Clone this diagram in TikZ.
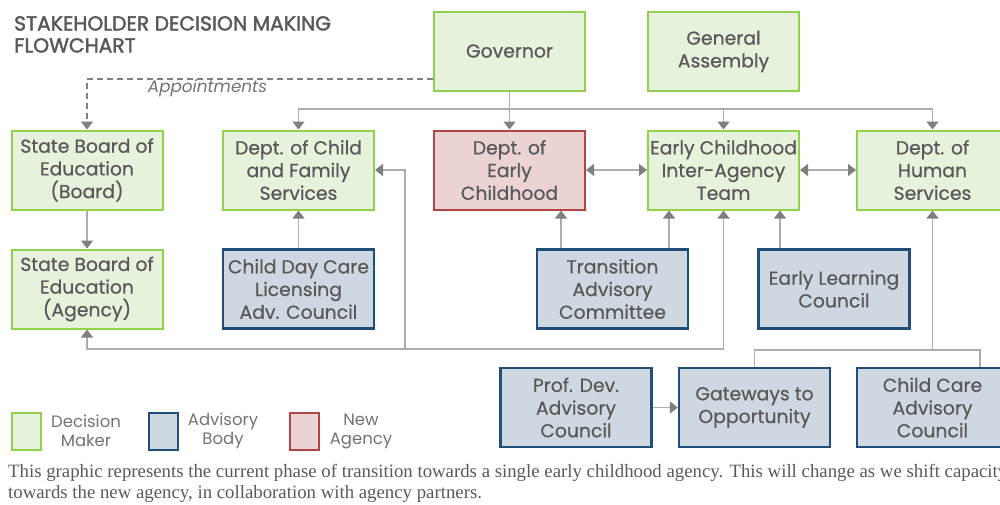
\documentclass[tikz,border=0pt]{standalone}
\usepackage{fontspec}
\usetikzlibrary{arrows.meta,calc}
\setmainfont{Poppins}[FakeBold=0]
\newfontfamily\boxfont[FakeBold=0.6]{Poppins}
\newfontfamily\titlefont[FakeBold=2]{Poppins}
\newfontfamily\captionfont{Liberation Serif}

\definecolor{txtgray}{HTML}{595959}
\definecolor{linegray}{HTML}{ADADAD}
\definecolor{tipgray}{HTML}{7F7F7F}
\definecolor{dmborder}{HTML}{92D050}
\definecolor{dmfill}{HTML}{E6F2DC}
\definecolor{adborder}{HTML}{1F4E79}
\definecolor{adfill}{HTML}{CFD8E0}
\definecolor{naborder}{HTML}{B04545}
\definecolor{nafill}{HTML}{EBD3D3}

\tikzset{
  box/.style={draw, line width=2pt, minimum width=151, minimum height=79,
    inner sep=0pt, align=center, text=txtgray,
    font=\boxfont\fontsize{18.8}{22.7}\selectfont},
  decision/.style={box, draw=dmborder, fill=dmfill},
  advisory/.style={box, draw=adborder, fill=adfill, line width=2.4pt},
  newagency/.style={box, draw=naborder, fill=nafill},
  conn/.style={draw=linegray, line width=1.5pt},
  arr/.style={conn, -{Triangle[width=12,length=8,color=tipgray]}},
  arrboth/.style={conn, {Triangle[width=12,length=8,color=tipgray]}-{Triangle[width=12,length=8,color=tipgray]}},
  dashconn/.style={draw=tipgray, line width=1.5pt, dash pattern=on 6pt off 4pt,
    -{Triangle[width=12,length=8,color=tipgray]}},
  legbox/.style={draw, line width=2pt, minimum width=29, minimum height=37, inner sep=0pt},
  legtext/.style={align=center, text=txtgray!85, font=\fontsize{16.5}{19}\selectfont},
  titletext/.style={anchor=base west, inner sep=0pt, text=txtgray,
    font=\titlefont\fontsize{20.3}{22.5}\selectfont},
  captext/.style={anchor=base west, inner sep=0pt, text=txtgray,
    font=\captionfont\fontsize{18.8}{21}\selectfont},
}

\begin{document}
\begin{tikzpicture}[x=1pt, y=-1pt]
\useasboundingbox (0,0) rectangle (1000,504);
\clip (0,0) rectangle (1000,504);

% title
\node[titletext] (title1) at (14,30.5) {STAKEHOLDER DECISION MAKING};
\node[titletext] (title2) at (14,52.5) {FLOWCHART};

% top row
\node[decision] (gov) at (509.5,51) {Governor};
\node[decision] (ga) at (723.5,51.5) {General\\Assembly};

% second row
\node[decision] (sbeb) at (87,170) {State Board of\\Education\\(Board)};
\node[decision] (dcfs) at (298.5,170) {Dept. of Child\\and Family\\Services};
\node[newagency] (dec) at (509.5,170) {Dept. of\\Early\\Childhood};
\node[decision] (eciat) at (723.5,170) {Early Childhood\\Inter-Agency\\Team};
\node[decision] (dhs) at (932.5,170) {Dept. of\\Human\\Services};

% third row
\node[decision] (sbea) at (87,289) {State Board of\\Education\\(Agency)};
\node[advisory] (cdcl) at (298.5,289) {Child Day Care\\Licensing\\Adv. Council};
\node[advisory] (tac) at (612.5,289) {Transition\\Advisory\\Committee};
\node[advisory] (elc) at (834,289) {Early Learning\\Council};

% bottom row
\node[advisory] (pdac) at (576,407.5) {Prof. Dev.\\Advisory\\Council};
\node[advisory] (gto) at (754.5,407.5) {Gateways to\\Opportunity};
\node[advisory] (ccac) at (932.5,407.5) {Child Care\\Advisory\\Council};

% governor distribution
\coordinate (gbus) at (509.5,109);
\draw[conn] (gov.south) -- (gbus);
\draw[arr] (gbus) -| (dcfs.north);
\draw[arr] (gbus) -- (dec.north);
\draw[arr] (gbus) -| (eciat.north);
\draw[arr] (gbus) -| (dhs.north);

% appointments
\coordinate (gdash) at (433,79);
\draw[dashconn] (gdash) -| (sbeb.north);
\node[anchor=base, inner sep=0pt, text=txtgray!85,
  font=\itshape\fontsize{16.8}{19}\selectfont] (appt) at (207.5,92) {Appointments};

% vertical links
\draw[arr] (sbeb) -- (sbea);
\draw[arr] (cdcl) -- (dcfs);
\draw[arr] ([xshift=-51.5]tac.north) -- ([xshift=-51.5]tac.north |- dec.south);
\draw[arr] ([xshift=56.5]tac.north) -- ([xshift=56.5]tac.north |- eciat.south);
\draw[arr] ([xshift=-54]elc.north) -- ([xshift=-54]elc.north |- eciat.south);

% horizontal links
\draw[arrboth] (dec) -- (eciat);
\draw[arrboth] (eciat) -- (dhs);
\draw[arr] (pdac) -- (gto);

% lower-left bus
\coordinate (lbus) at (405,349);
\draw[arr] (lbus) -| (sbea.south);
\draw[arr] (lbus) -| (eciat.south);
\draw[arr] (lbus) |- (dcfs.east);

% lower-right bus
\coordinate (rbus) at (932.5,350);
\draw[arr] (rbus) -- (dhs.south);
\draw[conn] (rbus) -| (gto.north);
\draw[conn] (rbus) -| ([xshift=47.5]ccac.north);

% legend
\node[legbox, draw=dmborder, fill=dmfill] (lg1) at (26,431) {};
\node[legtext] (lt1) at (86,431) {Decision\\Maker};
\node[legbox, draw=adborder, fill=adfill] (lg2) at (163.5,431) {};
\node[legtext] (lt2) at (223,431) {Advisory\\Body};
\node[legbox, draw=naborder, fill=nafill] (lg3) at (304.5,431) {};
\node[legtext] (lt3) at (361,431) {New\\Agency};

% caption
\node[captext] (cap1) at (8,477)
  {This graphic represents the current phase of transition towards a single early childhood agency. This will change as we shift capacity};
\node[captext] (cap2) at (8,498)
  {towards the new agency, in collaboration with agency partners.};
\end{tikzpicture}
\end{document}
